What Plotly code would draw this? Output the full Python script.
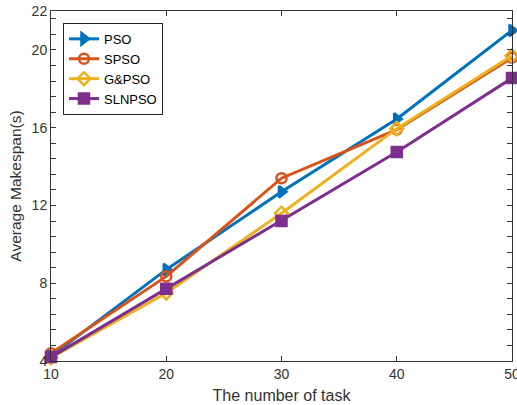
import plotly.graph_objects as go

tasks = [10, 20, 30, 40, 50]
pso = [4.25, 8.7, 12.7, 16.45, 21.0]
spso = [4.4, 8.35, 13.4, 15.9, 19.6]
gpso = [4.17, 7.5, 11.6, 15.95, 19.7]
slnpso = [4.2, 7.72, 11.2, 14.75, 18.55]

names = ["PSO", "SPSO", "G&PSO", "SLNPSO"]
colors = ["#0072BD", "#D95319", "#EDB120", "#7E2F8E"]
symbols = ["triangle-right", "circle-open", "diamond-open", "square"]
series = [pso, spso, gpso, slnpso]

ytickvals = [round(4 + 0.8 * k, 2) for k in range(23)] + [22]
yticktext = []
for v in ytickvals:
    if abs(v - round(v)) < 1e-6 and int(round(v)) in (4, 8, 12, 16, 20, 22):
        yticktext.append(str(int(round(v))))
    else:
        yticktext.append("")

fig = go.Figure()
for n, c, s, ys in zip(names, colors, symbols, series):
    fig.add_trace(go.Scatter(
        x=tasks, y=ys, name=n, mode="lines+markers",
        line=dict(color=c, width=3),
        marker=dict(symbol=s, size=10, color=c, line=dict(color=c, width=2.5)),
        cliponaxis=False,
    ))

axis_common = dict(
    showline=True, linecolor="#333333", linewidth=1, mirror="ticks",
    ticks="inside", ticklen=5, tickcolor="#333333", showgrid=False, zeroline=False,
    automargin=False, ticklabeloverflow="allow",
    tickfont=dict(family="Liberation Sans, Arial", size=14, color="#333333"),
)

fig.update_layout(
    width=517, height=405,
    margin=dict(l=51, r=5, t=11, b=44, autoexpand=False),
    paper_bgcolor="white", plot_bgcolor="white",
    font=dict(family="Liberation Sans, Arial", color="#333333"),
    xaxis=dict(range=[10, 50], tickvals=tasks,
               title=dict(text="The number of task", font=dict(size=16), standoff=9),
               **axis_common),
    yaxis=dict(range=[4, 22], tickvals=ytickvals, ticktext=yticktext,
               title=dict(text="Average Makespan(s)", font=dict(size=15.5), standoff=6),
               **axis_common),
    legend=dict(x=0.026, y=0.966, xanchor="left", yanchor="top",
                bordercolor="#262626", borderwidth=1, bgcolor="white",
                font=dict(size=13, color="#000000"), tracegroupgap=0,
                itemwidth=30),
    showlegend=True,
)

fig.write_html("out.html", config={"displayModeBar": False},
               post_script="document.body.style.margin='0';document.body.style.overflow='hidden';")
